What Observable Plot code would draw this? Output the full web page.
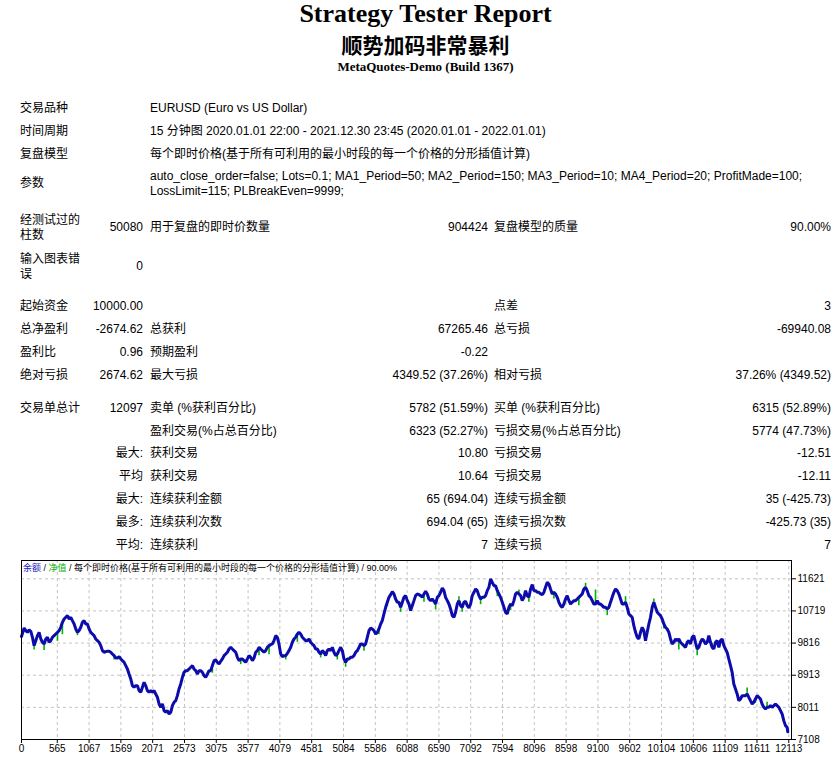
<!DOCTYPE html>
<html>
<head>
<meta charset="utf-8">
<script src="https://cdn.jsdelivr.net/npm/d3@7"></script>
<script src="https://cdn.jsdelivr.net/npm/@observablehq/plot@0.6"></script>
<style>
  html, body { margin: 0; padding: 0; background: #fff; }
  body { width: 837px; height: 759px; position: relative; overflow: hidden; color: #000; }
  .h { position: absolute; left: 0; width: 851px; text-align: center; white-space: nowrap; }
  .title { top: 0; font: bold 26px/28px "Liberation Serif", "Times New Roman", serif; }
  .sub { top: 33px; font: bold 21px/22px "Noto Sans CJK SC", sans-serif; }
  .build { top: 60px; font: bold 13px/13px "Liberation Serif", "Times New Roman", serif; }
  .t { position: absolute; font: 12px/15px "Liberation Sans", "Noto Sans CJK SC", sans-serif; white-space: nowrap; margin-top: 2px; }
  .l1 { left: 20px; }
  .r2 { left: 0; width: 143px; text-align: right; }
  .l3 { left: 150px; }
  .r4 { left: 288px; width: 200px; text-align: right; }
  .l5 { left: 494px; }
  .r6 { left: 631px; width: 200px; text-align: right; }
  .wrap { white-space: normal; width: 681px; }
  #chart { position: absolute; left: 0; top: 557px; }
  #legend { position: absolute; left: 23px; top: 563px; font: 9px/11px "Liberation Sans", "Noto Sans CJK SC", sans-serif; white-space: nowrap; z-index: 2; }
</style>
</head>
<body>
<div class="h title">Strategy Tester Report</div>
<div class="h sub">顺势加码非常暴利</div>
<div class="h build">MetaQuotes-Demo (Build 1367)</div>

<div class="t l1" style="top:99px">交易品种</div><div class="t l3" style="top:99px">EURUSD (Euro vs US Dollar)</div>
<div class="t l1" style="top:122px">时间周期</div><div class="t l3" style="top:122px">15 分钟图 2020.01.01 22:00 - 2021.12.30 23:45 (2020.01.01 - 2022.01.01)</div>
<div class="t l1" style="top:145px">复盘模型</div><div class="t l3" style="top:145px">每个即时价格(基于所有可利用的最小时段的每一个价格的分形插值计算)</div>
<div class="t l1" style="top:174px">参数</div><div class="t l3 wrap" style="top:167px">auto_close_order=false; Lots=0.1; MA1_Period=50; MA2_Period=150; MA3_Period=10; MA4_Period=20; ProfitMade=100; LossLimit=115; PLBreakEven=9999;</div>

<div class="t l1" style="top:211px">经测试过的<br>柱数</div><div class="t r2" style="top:218px">50080</div><div class="t l3" style="top:218px">用于复盘的即时价数量</div><div class="t r4" style="top:218px">904424</div><div class="t l5" style="top:218px">复盘模型的质量</div><div class="t r6" style="top:218px">90.00%</div>
<div class="t l1" style="top:250px">输入图表错<br>误</div><div class="t r2" style="top:257px">0</div>

<div class="t l1" style="top:297px">起始资金</div><div class="t r2" style="top:297px">10000.00</div><div class="t l5" style="top:297px">点差</div><div class="t r6" style="top:297px">3</div>
<div class="t l1" style="top:320px">总净盈利</div><div class="t r2" style="top:320px">-2674.62</div><div class="t l3" style="top:320px">总获利</div><div class="t r4" style="top:320px">67265.46</div><div class="t l5" style="top:320px">总亏损</div><div class="t r6" style="top:320px">-69940.08</div>
<div class="t l1" style="top:343px">盈利比</div><div class="t r2" style="top:343px">0.96</div><div class="t l3" style="top:343px">预期盈利</div><div class="t r4" style="top:343px">-0.22</div>
<div class="t l1" style="top:366px">绝对亏损</div><div class="t r2" style="top:366px">2674.62</div><div class="t l3" style="top:366px">最大亏损</div><div class="t r4" style="top:366px">4349.52 (37.26%)</div><div class="t l5" style="top:366px">相对亏损</div><div class="t r6" style="top:366px">37.26% (4349.52)</div>

<div class="t l1" style="top:399px">交易单总计</div><div class="t r2" style="top:399px">12097</div><div class="t l3" style="top:399px">卖单 (%获利百分比)</div><div class="t r4" style="top:399px">5782 (51.59%)</div><div class="t l5" style="top:399px">买单 (%获利百分比)</div><div class="t r6" style="top:399px">6315 (52.89%)</div>
<div class="t l3" style="top:422px">盈利交易(%占总百分比)</div><div class="t r4" style="top:422px">6323 (52.27%)</div><div class="t l5" style="top:422px">亏损交易(%占总百分比)</div><div class="t r6" style="top:422px">5774 (47.73%)</div>
<div class="t r2" style="top:444px">最大:</div><div class="t l3" style="top:444px">获利交易</div><div class="t r4" style="top:444px">10.80</div><div class="t l5" style="top:444px">亏损交易</div><div class="t r6" style="top:444px">-12.51</div>
<div class="t r2" style="top:467px">平均</div><div class="t l3" style="top:467px">获利交易</div><div class="t r4" style="top:467px">10.64</div><div class="t l5" style="top:467px">亏损交易</div><div class="t r6" style="top:467px">-12.11</div>
<div class="t r2" style="top:490px">最大:</div><div class="t l3" style="top:490px">连续获利金额</div><div class="t r4" style="top:490px">65 (694.04)</div><div class="t l5" style="top:490px">连续亏损金额</div><div class="t r6" style="top:490px">35 (-425.73)</div>
<div class="t r2" style="top:513px">最多:</div><div class="t l3" style="top:513px">连续获利次数</div><div class="t r4" style="top:513px">694.04 (65)</div><div class="t l5" style="top:513px">连续亏损次数</div><div class="t r6" style="top:513px">-425.73 (35)</div>
<div class="t r2" style="top:536px">平均:</div><div class="t l3" style="top:536px">连续获利</div><div class="t r4" style="top:536px">7</div><div class="t l5" style="top:536px">连续亏损</div><div class="t r6" style="top:536px">7</div>

<div id="legend"><span style="color:#2020c0">余额</span> / <span style="color:#00b000">净值</span> / 每个即时价格(基于所有可利用的最小时段的每一个价格的分形插值计算) / 90.00%</div>
<div id="chart"></div>

<script>
const xTicks = [0,565,1067,1569,2071,2573,3075,3577,4079,4581,5084,5586,6088,6590,7092,7594,8096,8598,9100,9602,10104,10606,11109,11611,12113];
const yTicks = [7108,8011,8913,9816,10719,11621];

const trades = [0,
42,68,94,120,147,
173,199,226,252,278,305,331,357,383,410,
436,462,489,515,541,568,594,620,646,673,
699,725,752,778,804,831,857,883,909,936,
962,988,1015,1041,1067,1094,1120,1146,1172,1199,
1225,1251,1278,1304,1330,1357,1383,1409,1435,1462,
1488,1514,1541,1567,1593,1620,1646,1672,1698,1725,
1751,1777,1804,1830,1856,1883,1909,1935,1961,1988,
2014,2040,2067,2093,2119,2146,2172,2198,2224,2251,
2277,2303,2330,2356,2382,2409,2435,2461,2487,2514,
2540,2566,2593,2619,2645,2672,2698,2724,2750,2777,
2803,2829,2856,2882,2908,2935,2961,2987,3013,3040,
3066,3092,3119,3145,3171,3198,3224,3250,3276,3303,
3329,3355,3382,3408,3434,3461,3487,3513,3539,3566,
3592,3618,3645,3671,3697,3724,3750,3776,3802,3829,
3855,3881,3908,3934,3960,3987,4013,4039,4065,4092,
4118,4144,4171,4197,4223,4250,4276,4302,4328,4355,
4381,4407,4434,4460,4486,4513,4539,4565,4591,4618,
4644,4670,4697,4723,4749,4776,4802,4828,4854,4881,
4907,4933,4960,4986,5012,5039,5065,5091,5117,5144,
5170,5196,5223,5249,5275,5302,5328,5354,5380,5407,
5433,5459,5486,5512,5538,5565,5591,5617,5643,5670,
5696,5722,5749,5775,5801,5828,5854,5880,5906,5933,
5959,5985,6012,6038,6064,6091,6117,6143,6169,6196,
6222,6248,6275,6301,6327,6354,6380,6406,6432,6459,
6485,6511,6538,6564,6590,6617,6643,6669,6695,6722,
6748,6774,6801,6827,6853,6880,6906,6932,6958,6985,
7011,7037,7064,7090,7116,7143,7169,7195,7221,7248,
7274,7300,7327,7353,7379,7406,7432,7458,7484,7511,
7537,7563,7590,7616,7642,7669,7695,7721,7747,7774,
7800,7826,7853,7879,7905,7932,7958,7984,8010,8037,
8063,8089,8116,8142,8168,8195,8221,8247,8273,8300,
8326,8352,8379,8405,8431,8458,8484,8510,8536,8563,
8589,8615,8642,8668,8694,8721,8747,8773,8799,8826,
8852,8878,8905,8931,8957,8984,9010,9036,9062,9089,
9115,9141,9168,9194,9220,9247,9273,9299,9325,9352,
9378,9404,9431,9457,9483,9510,9536,9562,9588,9615,
9641,9667,9694,9720,9746,9773,9799,9825,9851,9878,
9904,9930,9957,9983,10009,10036,10062,10088,10114,10141,
10167,10193,10220,10246,10272,10299,10325,10351,10377,10404,
10430,10456,10483,10509,10535,10562,10588,10614,10640,10667,
10693,10719,10746,10772,10798,10825,10851,10877,10903,10930,
10956,10982,11009,11035,11061,11088,11114,11140,11166,11193,
11219,11245,11272,11298,11324,11351,11377,11403,11429,11456,
11482,11508,11535,11561,11587,11614,11640,11666,11692,11719,
11745,11771,11798,11824,11850,11877,11903,11929,11955,11982,
12008,12034,12061,12087,
12097];

const balance = [10000,
10240,10165,10118,10184,10146,
9978,9744,9884,10025,10118,9931,9838,9791,9931,9978,
9838,9884,9978,10025,10072,10118,10165,10259,10399,10493,
10540,10586,10493,10540,10446,10352,10212,10118,10165,10259,
10399,10446,10352,10352,10212,10118,10072,10025,9931,9884,
9838,9744,9604,9557,9576,9585,9585,9557,9510,9463,
9398,9398,9435,9370,9323,9276,9182,9089,8948,8808,
8621,8574,8621,8621,8480,8434,8574,8714,8621,8480,
8434,8480,8434,8480,8387,8293,8106,8012,8106,7919,
7872,7919,7825,7872,8059,8153,8200,8340,8527,8668,
8855,8995,9042,9042,9089,9136,9182,9089,9042,8948,
9042,9042,8995,8902,8855,8948,9042,9042,9182,9323,
9342,9276,9229,9304,9370,9463,9510,9557,9650,9697,
9650,9604,9557,9416,9323,9370,9370,9323,9276,9370,
9463,9416,9323,9398,9557,9604,9697,9650,9604,9557,
9604,9697,9744,9772,9791,9884,10025,9978,9791,9510,
9435,9463,9463,9529,9604,9697,9838,9931,9978,10072,
10118,10072,9978,9931,9884,9884,9931,9838,9791,9744,
9650,9650,9557,9510,9604,9557,9463,9604,9650,9604,
9697,9557,9463,9510,9604,9697,9604,9370,9276,9370,
9370,9416,9416,9463,9557,9604,9697,9791,9791,9744,
9791,9978,10165,10240,10212,10165,10072,10118,10212,10352,
10446,10633,10820,10961,11101,11176,11260,11195,11054,10961,
10961,10820,10961,11101,11148,11008,10914,10727,10867,11008,
11148,11195,11176,11148,11101,11195,11270,11195,11054,11008,
11054,10989,10914,11101,11148,11242,11363,11288,11101,11008,
10914,10774,10586,10540,10680,10914,11008,10867,10820,10961,
10989,10867,10802,10914,11148,11242,11335,11288,11148,11054,
11101,11101,11148,11288,11382,11616,11522,11429,11429,11288,
11195,11101,10961,10820,10680,10633,10820,10914,10867,11008,
11195,11242,11195,11148,11008,11101,11288,11148,11101,11335,
11457,11288,11288,11242,11242,11195,11176,11242,11382,11522,
11476,11335,11195,11242,11195,11101,10961,10867,10820,10914,
11054,11148,11008,10914,10961,11008,11008,11054,11101,11148,
11195,11335,11382,11288,11148,11101,11008,10914,10914,11008,
10914,10914,10867,10820,10820,10774,10820,10961,11101,11242,
11335,11288,11195,11054,10914,10914,10961,10820,10633,10586,
10540,10306,10118,9978,9931,10118,10259,10165,9884,10118,
10352,10540,10820,10961,10820,10680,10633,10586,10493,10352,
10259,10212,10118,9931,9791,9838,9931,9884,9931,9838,
9791,9744,9697,9838,9884,9791,9978,10025,9838,9650,
9697,9838,9931,9884,9791,9838,10025,9838,9697,9650,
9838,9884,9697,9884,9931,9744,9650,9557,9370,9182,
8995,8668,8527,8387,8200,8246,8340,8340,8340,8387,
8293,8200,8106,8153,8246,8340,8293,8246,8106,8012,
7966,8012,8012,8059,8012,8059,8106,8059,8012,7919,
7825,7638,7498,7451,
7325];

const eqTrade = [199,357,568,646,883,1462,2566,3013,3461,3750,3908,4171,4355,4723,4986,5117,5407,5643,5775,5985,6354,6538,6906,6958,7248,7511,7721,7853,8010,8405,8615,8799,8905,9062,9247,9536,9983,10141,10377,10667,10903,11456,11587,11771];
const eqFrom = [9744,9791,10118,10399,10118,9463,8995,9182,9370,9697,9744,9463,10072,9510,9510,9276,9744,10212,10961,10820,11195,10914,11008,10820,11054,11288,10914,11195,11101,11242,11148,11101,11382,10914,10774,10961,10961,10352,9931,9650,9697,8387,8246,8012];
const eqTo = [9622,9604,9866,10053,10025,9342,8874,8967,9211,9463,9491,9342,9838,9398,9342,9136,9585,10053,10839,10680,10961,10746,11120,10680,10895,11120,10727,11307,10961,11054,11054,10867,11494,11307,10586,11120,11054,10212,9622,9463,9809,8555,8125,8153];

const n = Math.min(trades.length, balance.length);
const balData = trades.slice(0, n).map((t, i) => ({trade: t, balance: balance[i]}));
const eqData = eqTrade.map((t, i) => ({trade: t, from: eqFrom[i], to: eqTo[i]}));

const chart = Plot.plot({
  width: 837,
  height: 200,
  marginLeft: 21,
  marginRight: 46,
  marginTop: 3,
  marginBottom: 18,
  style: {background: "transparent", fontFamily: "'Liberation Sans', Arial, sans-serif", fontSize: "10px", color: "#000", overflow: "visible"},
  x: {domain: [0, 12156], label: null},
  y: {domain: [7108, 12135], label: null},
  marks: [
    Plot.gridX(xTicks, {stroke: "#c4c4c4", strokeOpacity: 1, strokeDasharray: "3,3"}),
    Plot.gridY(yTicks, {stroke: "#c4c4c4", strokeOpacity: 1, strokeDasharray: "3,3"}),
    Plot.axisX(xTicks, {tickSize: 4, tickPadding: 1, tickFormat: d => String(d), label: null}),
    Plot.axisY(yTicks, {anchor: "right", tickSize: 4, tickPadding: 2, tickFormat: d => String(d), label: null}),
    Plot.ruleX(eqData, {x: "trade", y1: "from", y2: "to", stroke: "#00b000", strokeWidth: 1.6}),
    Plot.line(balData, {x: "trade", y: "balance", stroke: "#0c0cac", strokeWidth: 3, strokeLinejoin: "miter"}),
    Plot.frame({stroke: "#000", strokeWidth: 1})
  ]
});
document.getElementById("chart").appendChild(chart);
</script>
</body>
</html>
